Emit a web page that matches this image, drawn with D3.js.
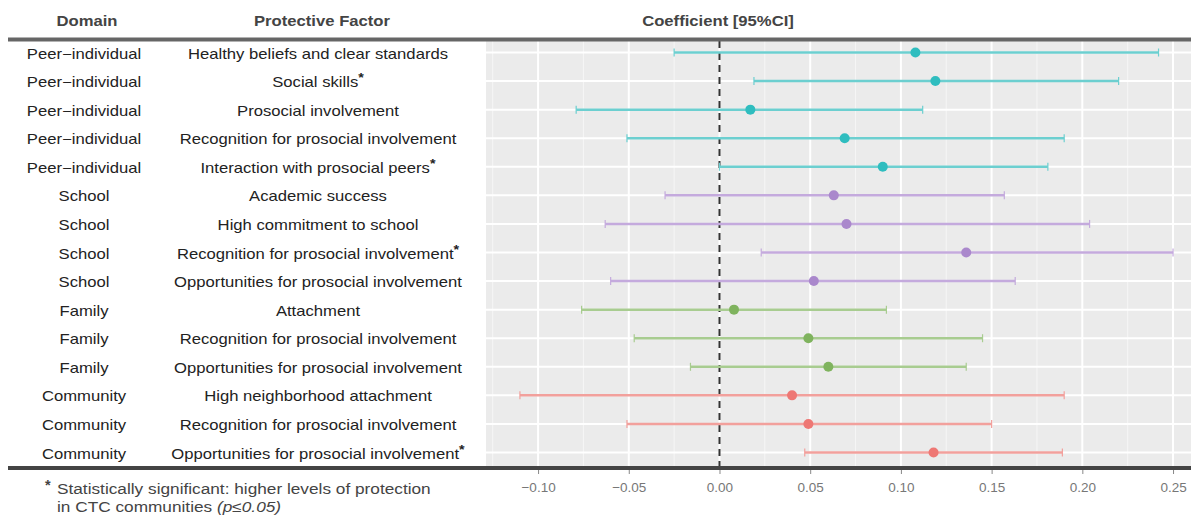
<!DOCTYPE html>
<html>
<head>
<meta charset="utf-8">
<script src="https://cdn.jsdelivr.net/npm/d3@7"></script>
<style>
  body { margin: 0; background: #fff; }
  text { font-family: "Liberation Sans", Arial, sans-serif; }
</style>
</head>
<body>
<script>
// data
var domains = ["Peer-individual", "Peer-individual", "Peer-individual", "Peer-individual", "Peer-individual",
  "School", "School", "School", "School",
  "Family", "Family", "Family",
  "Community", "Community", "Community"];
var factors = ["Healthy beliefs and clear standards", "Social skills", "Prosocial involvement",
  "Recognition for prosocial involvement", "Interaction with prosocial peers",
  "Academic success", "High commitment to school", "Recognition for prosocial involvement",
  "Opportunities for prosocial involvement",
  "Attachment", "Recognition for prosocial involvement", "Opportunities for prosocial involvement",
  "High neighborhood attachment", "Recognition for prosocial involvement", "Opportunities for prosocial involvement"];
var significant = [false, true, false, false, true, false, false, true, false, false, false, false, false, false, true];
var coef  = [0.108, 0.119, 0.017, 0.069, 0.090, 0.063, 0.070, 0.136, 0.052, 0.008, 0.049, 0.060, 0.040, 0.049, 0.118];
var lower = [-0.025, 0.019, -0.079, -0.051, 0.000, -0.030, -0.063, 0.023, -0.060, -0.076, -0.047, -0.016, -0.110, -0.051, 0.047];
var upper = [0.242, 0.220, 0.112, 0.190, 0.181, 0.157, 0.204, 0.250, 0.163, 0.092, 0.145, 0.136, 0.190, 0.150, 0.189];
var xTicks = [-0.10, -0.05, 0.00, 0.05, 0.10, 0.15, 0.20, 0.25];

var domainOrder = ["Peer-individual", "School", "Family", "Community"];
var pointColors = ["#2fbdbf", "#aa88cc", "#7fb35e", "#ee7774"];
var lineColors = ["#6ccfd0", "#c4aadd", "#a8cc90", "#f2a09c"];

var svgWidth = 1191;
var svgHeight = 519;

var panel = { left: 486, right: 1191, top: 41, bottom: 466 };
// the source text is a little stretched sideways
var stretch = 1.19;

var svg = d3.select("body")
  .append("svg")
  .attr("width", svgWidth)
  .attr("height", svgHeight);

// scales
var xScale = d3.scaleLinear()
  .domain([-0.1287, 0.2599])
  .range([panel.left, panel.right]);

var rows = d3.range(factors.length);
var yScale = d3.scalePoint()
  .domain(rows)
  .range([52.5, 452.5]);

var colorPoint = d3.scaleOrdinal().domain(domainOrder).range(pointColors);
var colorLine = d3.scaleOrdinal().domain(domainOrder).range(lineColors);

// panel background
svg.append("rect")
  .attr("x", panel.left)
  .attr("y", panel.top)
  .attr("width", panel.right - panel.left)
  .attr("height", panel.bottom - panel.top)
  .attr("fill", "#ebebeb");

// minor grid
var minor = d3.range(-0.125, 0.26, 0.05);
svg.append("g").selectAll("line")
  .data(minor)
  .join("line")
  .attr("x1", d => xScale(d)).attr("x2", d => xScale(d))
  .attr("y1", panel.top).attr("y2", panel.bottom)
  .attr("stroke", "#f6f6f6")
  .attr("stroke-width", 1);

// major grid
svg.append("g").selectAll("line")
  .data(xTicks)
  .join("line")
  .attr("x1", d => xScale(d)).attr("x2", d => xScale(d))
  .attr("y1", panel.top).attr("y2", panel.bottom)
  .attr("stroke", "#fff")
  .attr("stroke-width", 2);

svg.append("g").selectAll("line")
  .data(rows)
  .join("line")
  .attr("x1", panel.left).attr("x2", panel.right)
  .attr("y1", d => yScale(d)).attr("y2", d => yScale(d))
  .attr("stroke", "#fff")
  .attr("stroke-width", 2);

// zero line
svg.append("line")
  .attr("x1", xScale(0)).attr("x2", xScale(0))
  .attr("y1", panel.top).attr("y2", panel.bottom)
  .attr("stroke", "#333")
  .attr("stroke-width", 2)
  .attr("stroke-dasharray", "7,5");

// error bars
var bars = svg.append("g");
rows.forEach(function(i) {
  var y = yScale(i);
  var c = colorLine(domains[i]);
  bars.append("line")
    .attr("x1", xScale(lower[i])).attr("x2", xScale(upper[i]))
    .attr("y1", y).attr("y2", y)
    .attr("stroke", c).attr("stroke-width", 2.5);
  [lower[i], upper[i]].forEach(function(v) {
    bars.append("line")
      .attr("x1", xScale(v)).attr("x2", xScale(v))
      .attr("y1", y - 4).attr("y2", y + 4)
      .attr("stroke", c).attr("stroke-width", 1.2);
  });
});

// points
svg.append("g").selectAll("circle")
  .data(rows)
  .join("circle")
  .attr("cx", d => xScale(coef[d]))
  .attr("cy", d => yScale(d))
  .attr("r", 5)
  .attr("fill", d => colorPoint(domains[d]));

// table text
var table = svg.append("g")
  .attr("font-size", 14)
  .attr("fill", "#222");

table.selectAll(".dom")
  .data(rows)
  .join("text")
  .attr("class", "dom")
  .attr("transform", d => `translate(84, ${yScale(d) + 6}) scale(${stretch}, 1)`)
  .attr("text-anchor", "middle")
  .text(d => domains[d].replace("-", "\u2212"));

var fac = table.selectAll(".fac")
  .data(rows)
  .join("text")
  .attr("class", "fac")
  .attr("transform", d => `translate(318, ${yScale(d) + 6}) scale(${stretch}, 1)`)
  .attr("text-anchor", "middle");
fac.append("tspan").text(d => factors[d]);
fac.filter(d => significant[d])
  .append("tspan")
  .attr("dy", -5)
  .attr("font-size", 12)
  .attr("font-weight", "bold")
  .text("*");

// headers
var headers = [["Domain", 87], ["Protective Factor", 322], ["Coefficient [95%CI]", 718]];
svg.append("g").selectAll("text")
  .data(headers)
  .join("text")
  .attr("transform", d => `translate(${d[1]}, 26) scale(${stretch}, 1)`)
  .attr("text-anchor", "middle")
  .attr("font-size", 14)
  .attr("font-weight", "bold")
  .attr("fill", "#444")
  .text(d => d[0]);

// rules
svg.append("line")
  .attr("x1", 8).attr("x2", svgWidth)
  .attr("y1", 39.5).attr("y2", 39.5)
  .attr("stroke", "#666").attr("stroke-width", 4);
svg.append("line")
  .attr("x1", 8).attr("x2", svgWidth)
  .attr("y1", 468).attr("y2", 468)
  .attr("stroke", "#444").attr("stroke-width", 4);

// x axis
var xAxis = d3.axisBottom(xScale)
  .tickValues(xTicks)
  .tickFormat(d3.format(".2f"))
  .tickSize(4)
  .tickPadding(8);

var axisG = svg.append("g")
  .attr("transform", `translate(0, 470)`)
  .call(xAxis);
axisG.select(".domain").remove();
axisG.selectAll(".tick line").attr("stroke", "#888");
axisG.selectAll(".tick text")
  .attr("fill", "#777")
  .attr("font-size", 13.5)
  .text(d => d3.format(".2f")(d).replace("-", "\u2212"));

// footnote
var note = svg.append("g")
  .attr("font-size", 14.5)
  .attr("fill", "#444");
note.append("text").attr("x", 45).attr("y", 490).attr("font-weight", "bold").text("*");
note.append("text")
  .attr("transform", `translate(57, 494) scale(${stretch}, 1)`)
  .text("Statistically significant: higher levels of protection");
var line2 = note.append("text")
  .attr("transform", `translate(57, 512) scale(${stretch}, 1)`);
line2.append("tspan").text("in CTC communities ");
line2.append("tspan").attr("font-style", "italic").text("(p\u22640.05)");
</script>
</body>
</html>
